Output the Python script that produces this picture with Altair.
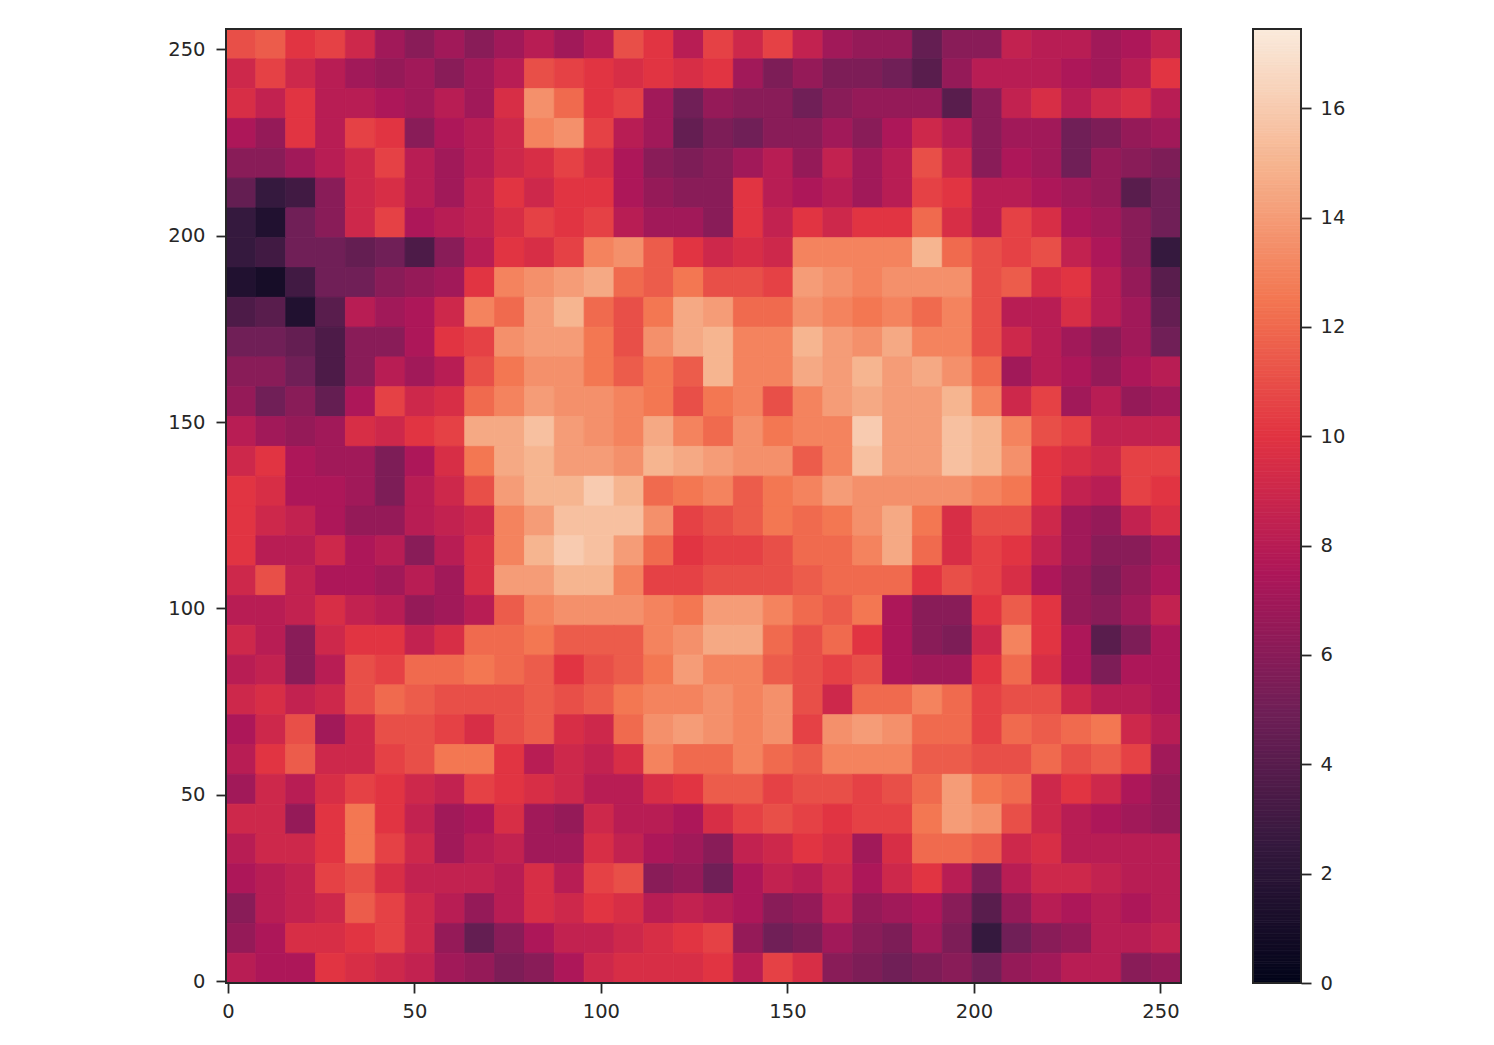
import altair as alt
import pandas as pd

# Estimated image values, 8x8-unit blocks, top row (y=248..255) first, left to right
row_00 = [11,11.5,10,10.5,9,7,6,7,6,7,8,7,8,11,10,8, 10.5,9,10.5,8.5,7,6.5,6.5,4.5,6,6,8.5,8,8,7,7.5,8.5]
row_01 = [9,10.5,9,8,7,6.5,7,6,7,8,11,10.5,10,9.5,10,9.5, 10,7,5.5,6.5,5.5,5.5,5,4,6.5,8,8,8,7.5,7,8,10]
row_02 = [9.5,8.5,10,8,8,7.5,7,8,7,9.5,13.5,12,10,10.5,7,5, 6.5,6,6,5,6,6.5,6.5,6.5,4,6,8.5,9.5,8,9,9.5,8]
row_03 = [7.5,6.5,10,8,10.5,10,6,7.5,8,9,13,13.5,10.5,8,7,4.5, 5.5,5,6,6,7,6,7.5,9,8,6,7,7,5,5.5,6.5,7]
row_04 = [6,6,7,8,9,10.5,8,7,8,9,9.5,10.5,9.5,7.5,6,5.5, 6,7,8,6.5,8.5,7,8,11,9,6,7.5,7,5,6.5,6,5.5]
row_05 = [4.5,2.5,3,6,9,9.5,8,7,8.5,10,9,10,10,7.5,6.5,6, 6,10,8,7.5,8,7,8,10.5,10,8,8,7.5,7,6.5,4,5]
row_06 = [2.5,1.5,5,6,9,10.5,7.5,8,8.5,9.5,10.5,10,10.5,8,7,7, 6,10,8.5,10,9,10,10,12,9.5,8,10.5,9.5,7.5,7,6,5]
row_07 = [2.5,3,5,5,4.5,5,3.5,6,8,10,9.5,10.5,13,13.5,11.5,10, 9,9.5,9,13,13,13,13,15,12,11,10.5,11,8.5,7.5,6,2.5]
row_08 = [1.5,1,3,5,5,6,6.5,7,10,13,13.5,14,14.5,12,11.5,12.5, 11,11,10.5,14,13.5,13,13.5,13.5,13.5,11,11.5,9.5,10,8,6.5,4]
row_09 = [3.5,4,1.5,4,8,7,7.5,9,13,12,14,15,12,11,12.5,14.5, 14,12,12,13.5,13,12.5,13,12,13,11,8,8,9.5,8,7,4.5]
row_10 = [5,5,4.5,3.5,6,6,7.5,10,10.5,13.5,14,14,12.5,11,13.5,14.5, 15,13,13,15,14,13.5,14.5,13,13,11,9,8,7,6,7,5]
row_11 = [6,6,5,3.5,6,8,7,8,11,12.5,13.5,13.5,12.5,11.5,12.5,11.5, 15,13,13,14.5,14,15,14,14.5,13.5,12,7,8,7.5,6.5,7.5,8]
row_12 = [6.5,5,6,4.5,7.5,10.5,9,9.5,12,13,14,13.5,13.5,13,12.5,11, 12.5,13,11,13,14,14.5,14,14,15,13,9,10.5,7,8,6.5,7]
row_13 = [8,7,6.5,7,9.5,9,10,10.5,14.5,14.5,15.5,14,13.5,13,14.5,13, 12,13.5,12.5,13,13,16,14,14,15.5,15,13,11,10.5,8.5,8.5,8.5]
row_14 = [9,10,7.5,7,7,5.5,7.5,9.5,12.5,14.5,15,14,14,13.5,15,14.5, 14,13.5,13.5,11.5,13,15.5,14,14,15.5,15,13.5,10,9.5,9,10.5,10.5]
row_15 = [10,9.5,7.5,7.5,7,5.5,8,9,11,14,15,15,16,15,12,12.5, 13,11.5,12.5,13,14,13.5,13.5,13.5,13.5,13,12.5,10,8.5,8,10.5,10]
row_16 = [10,9,8.5,7.5,6.5,6.5,8,8.5,9,13,14,15.5,15.5,15.5,13.5,10.5, 11,11.5,12.5,12,12.5,13.5,14.5,12.5,9.5,11,11,9,7,6.5,8.5,9.5]
row_17 = [10,8,8,9,7.5,8,6,8,9.5,13,15,16,15.5,14,12,10, 10.5,10.5,11,12,12,13,14.5,12,9.5,10.5,10,8.5,7,6,6,7]
row_18 = [9,11,8.5,7.5,7.5,7,8,7,9.5,14,14,15,15,13,10.5,10.5, 11,11,11,11.5,12,12,12,10,11,10.5,9.5,7.5,6.5,5.5,6.5,7.5]
row_19 = [8,8,8.5,9.5,8.5,8,6.5,7,8,11.5,13,13.5,13.5,13.5,13,12.5, 14,14,13,12,11.5,12.5,7.5,6,6,10,11.5,10,6.5,6,7,8.5]
row_20 = [9,8,6,9,10,10,8.5,9.5,12,12,12.5,11.5,11.5,11.5,13,13.5, 14.5,14.5,12,11,12,10,7.5,6,5.5,9,13,10,7.5,4,5.5,7.5]
row_21 = [8,8.5,6,8,11,10.5,12,12,12.5,12,11.5,10,11,11.5,12.5,14, 13,13,11.5,11,10.5,11,7.5,7,7,10,12,9.5,7.5,5.5,7.5,7.5]
row_22 = [9,9.5,8.5,9,11,12,11.5,11,11,11,11.5,11,11.5,12.5,13,13, 13.5,13,13.5,11,9,12,12,13,12,10.5,11,11,9,8,8,7.5]
row_23 = [7.5,9,11,7,9,11,11,10.5,9.5,11,11.5,9.5,9,12,13.5,14, 13.5,13,13.5,10.5,13.5,14,13.5,12,12,10.5,12,11.5,12,12.5,9,8]
row_24 = [8,10,11.5,9,9,10.5,11,12.5,12.5,10,8,9,8.5,9.5,13,12, 12,13,12,11.5,13,13,13,11.5,11.5,11,11,12,11,11.5,10.5,7]
row_25 = [7,9,8,9.5,10.5,10,9,8.5,10.5,10,9.5,9,8,8,9.5,10, 11.5,11.5,10.5,11,11,10.5,11,12,14,12.5,12,9,10,9,7.5,6.5]
row_26 = [9,9,6.5,10,12.5,10,8.5,7,7.5,9.5,7,6.5,9,8,8,7.5, 9.5,10.5,11,10.5,10,10.5,10.5,12.5,14,13.5,11,9,8,7.5,7,6.5]
row_27 = [8,9,9,10,12.5,10.5,9,7,8,8.5,7,7,9.5,8.5,7.5,7, 6,8.5,9,10,9.5,7,9.5,12,12,11.5,9,9.5,8,8,8,8]
row_28 = [7.5,8,8.5,10.5,11,9.5,8.5,8.5,8.5,8,9.5,8,10.5,11,6,6.5, 5,7.5,8.5,8,9,7.5,9,10,8,5.5,8,9,9,8.5,8,8]
row_29 = [6,8,8.5,9,11.5,10.5,9,8,6.5,8,9.5,9,10,9.5,8,8.5, 8,7.5,6,6.5,8.5,6.5,7,7.5,6,4,6.5,8,7.5,8,7.5,8]
row_30 = [6.5,7.5,9.5,9.5,10,10.5,9,6.5,4.5,6,7.5,8.5,8.5,9,9.5,10, 10.5,6.5,5,5.5,7,6,5.5,7,5.5,2.5,5,6,6.5,8,8,8.5]
row_31 = [8,7.5,7.5,10,9.5,9,8.5,7,6.5,5.5,6,7.5,9,9.5,9.5,9.5, 10,8,10.5,9.5,6,5.5,5,5.5,6,5,6.5,7,8,8,6,6.5]

rows = [row_00,row_01,row_02,row_03,row_04,row_05,row_06,row_07,row_08,row_09,
        row_10,row_11,row_12,row_13,row_14,row_15,row_16,row_17,row_18,row_19,
        row_20,row_21,row_22,row_23,row_24,row_25,row_26,row_27,row_28,row_29,
        row_30,row_31]

axis_ticks = [0, 50, 100, 150, 200, 250]
bar_ticks = [0, 2, 4, 6, 8, 10, 12, 14, 16]
bar_max = 17.45
rocket_stops = [0, 2.493, 4.986, 7.479, 9.971, 12.464, 14.957, 17.45]
rocket_colors = ["#03051a", "#35193e", "#701f57", "#ad1759", "#e13342", "#f37651", "#f6b48f", "#faebdd"]

BLOCK = 8
records = []
for r, row in enumerate(rows):
    for c, v in enumerate(row):
        records.append({
            "x0": c * BLOCK - 0.5,
            "x1": (c + 1) * BLOCK - 0.5,
            "y1": 255.5 - r * BLOCK,
            "y0": 255.5 - (r + 1) * BLOCK,
            "v": v,
        })
cells = pd.DataFrame(records)

bar_steps = [i / 20 for i in range(0, 349)]
bar = pd.DataFrame({"lo": bar_steps, "hi": [s + 0.05 for s in bar_steps], "x0": 0, "x1": 1})

TXT = "#262626"
FONT = "DejaVu Sans"
FS = 19.5
color_scale = alt.Scale(domain=rocket_stops, range=rocket_colors, interpolate="rgb")
W, H, BW = 955, 954, 48


def axis(values, orient, pad):
    return alt.Axis(values=values, title=None, grid=False, domain=False, orient=orient,
                    tickSize=10, tickWidth=1.8, tickColor=TXT, labelPadding=pad,
                    labelColor=TXT, labelFont=FONT, labelFontSize=FS, labelFlush=False,
                    labelOverlap=False, format="d")


def frame(w, h):
    return alt.Chart(pd.DataFrame({"a": [0]})).mark_rect(
        fill=None, stroke=TXT, strokeWidth=2
    ).encode(x=alt.value(0), x2=alt.value(w), y=alt.value(0), y2=alt.value(h))


heat = alt.Chart(cells).mark_rect(strokeWidth=0.8).encode(
    x=alt.X("x0:Q", scale=alt.Scale(domain=[-0.5, 255.5], nice=False, zero=False), axis=axis(axis_ticks, "bottom", 9)),
    x2="x1:Q",
    y=alt.Y("y0:Q", scale=alt.Scale(domain=[-0.5, 255.5], nice=False, zero=False), axis=axis(axis_ticks, "left", 11)),
    y2="y1:Q",
    color=alt.Color("v:Q", scale=color_scale, legend=None),
    stroke=alt.Stroke("v:Q", scale=color_scale, legend=None),
)
left = alt.layer(heat, frame(W, H)).properties(width=W, height=H)

strip = alt.Chart(bar).mark_rect(strokeWidth=0.8, clip=True).encode(
    x=alt.X("x0:Q", scale=alt.Scale(domain=[0, 1], nice=False, zero=False), axis=None),
    x2="x1:Q",
    y=alt.Y("lo:Q", scale=alt.Scale(domain=[0, bar_max], nice=False, zero=False), axis=axis(bar_ticks, "right", 9)),
    y2="hi:Q",
    color=alt.Color("lo:Q", scale=color_scale, legend=None),
    stroke=alt.Stroke("lo:Q", scale=color_scale, legend=None),
)
right = alt.layer(strip, frame(BW, H)).properties(width=BW, height=H)

chart = alt.hconcat(left, right, spacing=70).properties(
    padding={"left": 159, "top": 20, "right": 10, "bottom": 10},
    background="white",
).configure_view(stroke=None)

chart.save("out.html", embed_options={"renderer": "svg", "actions": False})
